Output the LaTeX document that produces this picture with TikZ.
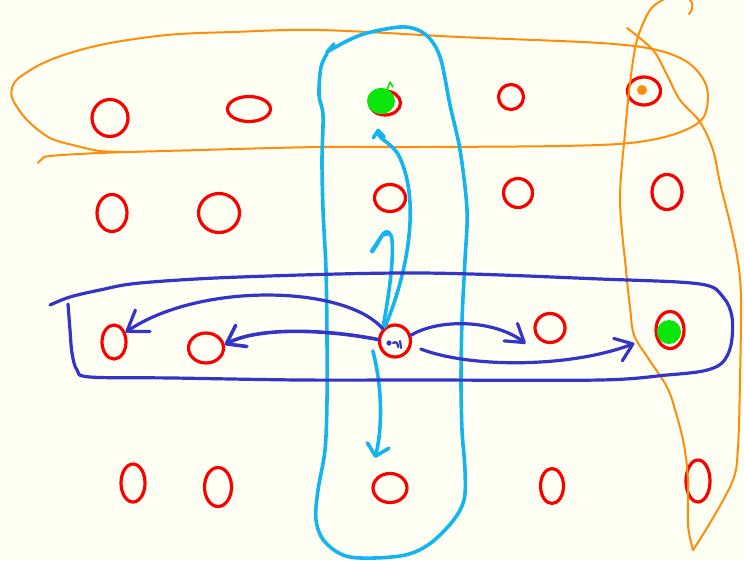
\documentclass[tikz,border=0pt]{standalone}
\usetikzlibrary{shapes.geometric,arrows.meta}

\definecolor{paper}{RGB}{255,255,243}
\definecolor{penred}{RGB}{250,0,0}
\definecolor{penorange}{RGB}{255,140,10}
\definecolor{pensky}{RGB}{20,180,240}
\definecolor{penblue}{RGB}{52,52,200}
\definecolor{pengreen}{RGB}{10,230,10}

\begin{document}
\begin{tikzpicture}[x=1pt,y=-1pt,line cap=round,line join=round,
  cell/.style={ellipse,draw=penred,line width=3.2pt,inner sep=0pt},
  orangepen/.style={draw=penorange,line width=2pt},
  skypen/.style={draw=pensky,line width=3.6pt},
  bluepen/.style={draw=penblue,line width=3.2pt},
  smallbarb/.style={-{Straight Barb[length=7pt,width=11pt,round]}}]

% sheet
\fill[paper] (0,0) rectangle (744,560);
\useasboundingbox (0,0) rectangle (744,560);

% grid of cells, row by row
\node[cell,minimum width=36,minimum height=37] (c11) at (110,118) {};
\node[cell,minimum width=43,minimum height=25] (c12) at (249,109) {};
\node[cell,minimum width=31,minimum height=24] (c13) at (385,103) {};
\node[cell,minimum width=25,minimum height=25] (c14) at (511,97) {};
\node[cell,minimum width=33,minimum height=28] (c15) at (644,91) {};

\node[cell,minimum width=30,minimum height=37] (c21) at (112,213) {};
\node[cell,minimum width=41,minimum height=39] (c22) at (219,213) {};
\node[cell,minimum width=31,minimum height=27] (c23) at (390,198) {};
\node[cell,minimum width=29,minimum height=29] (c24) at (518,193) {};
\node[cell,minimum width=30,minimum height=35] (c25) at (667,192) {};

\node[cell,minimum width=24,minimum height=34] (c31) at (114,342) {};
\node[cell,minimum width=35,minimum height=30] (c32) at (206,348) {};
\node[cell,minimum width=31,minimum height=32] (c33) at (395,341) {};
\node[cell,minimum width=30,minimum height=29] (c34) at (550,328) {};
\node[cell,minimum width=28,minimum height=37] (c35) at (670,330) {};

\node[cell,minimum width=24,minimum height=38] (c41) at (133,483) {};
\node[cell,minimum width=27,minimum height=39] (c42) at (218,487) {};
\node[cell,minimum width=34,minimum height=29] (c43) at (390,488) {};
\node[cell,minimum width=23,minimum height=35] (c44) at (552,486) {};
\node[cell,minimum width=24,minimum height=42] (c45) at (698,481) {};

% marks inside cells
\fill[pengreen] (381,101) ellipse (14 and 13);
\draw[pengreen,line width=1.6pt] (387,90) -- (390,82) -- (393,87);
\fill[penorange] (642,90) circle (5);
\fill[pengreen] (669,332) circle (12);

% orange loop round the first row
\draw[orangepen] plot[smooth,tension=0.55] coordinates {
  (124,152) (100,151) (77,146) (50,138) (27,120) (13,100) (12,88) (20,77)
  (50,60) (100,45) (167,35) (233,32) (320,30) (460,37) (600,43) (657,50)
  (690,64) (707,88) (703,118) (675,134) (630,143) (560,146) (420,147)
  (320,147) (200,150) (100,153) (50,156) (42,159) (38,163)};

% orange loop round the last column
\draw[orangepen] plot[smooth,tension=0.55] coordinates {
  (627,28) (653,50) (667,75) (680,100) (700,122) (713,150) (720,183)
  (730,223) (738,262) (741,300) (740,380) (738,447) (733,480) (710,523)
  (693,550)};
\draw[orangepen] plot[smooth,tension=0.55] coordinates {
  (693,550) (688,525) (688,480) (684,445) (676,413) (667,387) (648,358)
  (634,335) (630,307) (626,270) (620,200) (625,133) (630,83) (637,40)
  (650,10) (663,0)};
\draw[orangepen] (689,14) .. controls (694,8) and (693,3) .. (690,0);

% sky-blue loop round the middle column
\draw[skypen] (334,44) -- (327,52);
\draw[skypen] plot[smooth,tension=0.55] coordinates {
  (327,52) (347,41) (367,33) (400,27) (418,30) (431,40) (441,60) (450,105)
  (460,150) (467,210) (465,260) (462,320) (461,380) (462,430) (465,470)
  (464,500) (452,522) (428,545) (400,556) (350,557) (325,542) (316,520)
  (318,490) (325,450) (327,400) (327,340) (326,270) (323,210) (322,160)
  (323,115) (319,95) (321,67) (327,54)};

% sky-blue moves along the column
\draw[skypen,smallbarb] (c33.125) .. controls (407,275) and (422,200) .. (398,154)
  .. controls (388,140) and (379,140) .. ([shift={(-7,12)}]c13.south);
\draw[skypen] (c33.135) .. controls (388,300) and (394,262) .. (392,240)
  .. controls (391,233) and (388,229) .. (383,234) -- (376,246) -- (372,252);
\draw[skypen,line width=2.6pt] (371,251) -- (381,236) -- (389,234);
\draw[skypen,-{Straight Barb[length=11pt,width=22pt,round]}]
  ([shift={(-8,0)}]c33.215) .. controls (383,390) and (382,430) .. ([shift={(-4,-17)}]c43.130);

% dark-blue loop round the third row
\draw[bluepen] plot[smooth,tension=0.55] coordinates {
  (68,304) (70,330) (72,353) (77,370) (90,377) (173,378) (300,380)
  (420,380) (600,380) (667,375) (703,371) (722,363) (731,345) (732,317)
  (723,297) (700,284) (600,279) (420,273) (240,277) (140,283) (100,290)
  (70,297) (50,305)};

% dark-blue moves along the row
\draw[bluepen,-{Straight Barb[length=19pt,width=26pt,round]}]
  (c33.135) .. controls (345,285) and (200,282) .. (c31.40);
\draw[bluepen,-{Straight Barb[length=17pt,width=24pt,round]},line width=3.6pt]
  (c33.175) .. controls (330,330) and (260,326) .. (c32.10);
\draw[bluepen,-{Straight Barb[length=17pt,width=22pt,round]}]
  (c33.20) .. controls (440,318) and (495,320) .. ([shift={(-14,3)}]c34.230);
\draw[bluepen,-{Straight Barb[length=16pt,width=24pt,round]},shorten <=10pt,shorten >=22pt]
  (c33.-15) .. controls (470,368) and (570,368) .. (c35.200);

% pen marks at the start cell
\fill[penblue] (389,343) circle (2.6);
\draw[penblue,line width=2.2pt] (393,343) .. controls (396,341) and (398,343) .. (398,347);
\draw[penblue,line width=2.2pt] (400,341) -- (401,348);

\end{tikzpicture}
\end{document}
